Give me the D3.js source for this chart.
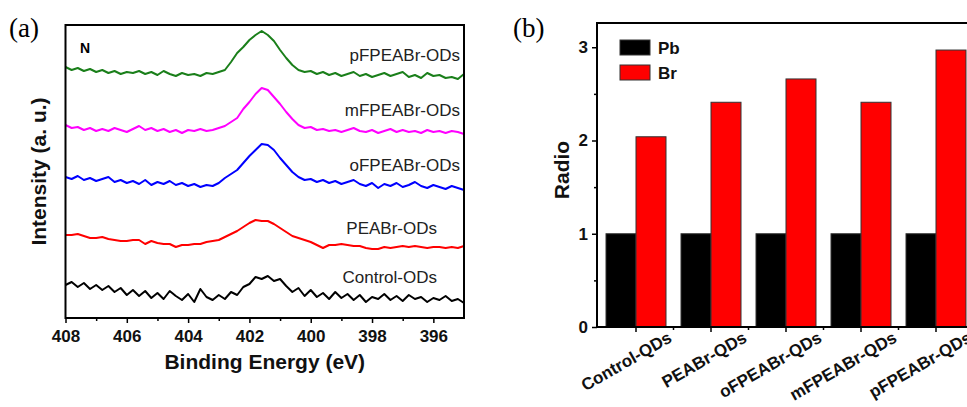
<!DOCTYPE html>
<html>
<head>
<meta charset="utf-8">
<script src="https://cdn.jsdelivr.net/npm/d3@7"></script>
<style>
  body { margin: 0; background: #fff; }
  text { font-family: "Liberation Sans", Arial, sans-serif; }
</style>
</head>
<body>
<div id="chart"></div>
<script>
// ---- panel (a): N 1s spectra, sampled every 0.2 eV from 408 to 395 ----
var energy = d3.range(0, 66).map(i => +(408 - 0.2 * i).toFixed(1));

var pfpeabr = [251,248,250,247,249,246,248,245,247,244,246,245,247,244,246,243,247,244,242,245,243,244,242,245,244,246,248,
  256,265,271,278,283,287,283,277,268,260,253,248,246,247,
  244,246,243,245,242,244,246,242,244,241,243,245,242,244,246,241,243,240,245,242,243,240,241,239,244];
var mfpeabr = [193,190,191,188,190,187,189,187,190,188,186,189,192,188,190,187,189,186,188,185,188,187,189,187,188,190,192,
  196,200,209,216,224,230,228,221,214,206,199,193,190,191,
  188,189,187,188,186,188,190,187,186,188,185,187,189,186,188,186,187,185,188,186,187,185,187,186,184];
var ofpeabr = [141,139,142,138,140,137,139,141,136,138,135,137,134,138,133,136,134,137,133,135,132,134,131,133,132,135,140,
  144,148,155,162,168,174,173,168,160,153,146,141,138,139,
  136,138,135,137,134,136,138,134,132,135,130,134,132,135,131,133,136,132,130,133,131,129,132,130,128];
var peabr = [83,83,84,82,80,80,81,79,78,77,77,78,78,74,77,75,74,74,71,73,73,74,74,76,77,78,81,
  84,87,91,95,98,97,97,94,90,86,82,80,78,76,
  73,70,73,73,74,73,72,72,70,69,69,71,70,71,72,71,72,71,70,71,71,70,71,70,72];
var control = [33,36,31,35,29,33,28,32,26,30,23,28,22,27,20,25,19,27,22,18,24,16,29,21,18,23,19,
  26,23,31,34,41,39,42,37,39,32,26,30,22,28,
  21,25,19,26,20,24,18,23,16,21,19,24,18,22,17,23,19,21,16,20,18,22,17,19,15];

var spectraNames = ["pFPEABr-ODs", "mFPEABr-ODs", "oFPEABr-ODs", "PEABr-ODs", "Control-ODs"];
var spectraValues = [pfpeabr, mfpeabr, ofpeabr, peabr, control];
var spectraColors = ["#1a7f1a", "#ff00ff", "#0000ff", "#ff0000", "#000000"];
var energyTicks = [408, 406, 404, 402, 400, 398, 396];

// ---- panel (b): Pb / Br ratio ----
var samples = ["Control-QDs", "PEABr-QDs", "oFPEABr-QDs", "mFPEABr-QDs", "pFPEABr-QDs"];
var elements = ["Pb", "Br"];
var pbRatio = [1, 1, 1, 1, 1];
var brRatio = [2.04, 2.41, 2.66, 2.41, 2.97];
var ratioTicks = [0, 1, 2, 3];

var svg = d3.select("#chart").append("svg")
  .attr("width", 967)
  .attr("height", 407)
  .style("background", "#fff");

// ================= panel (a) =================
var ax = {left: 65.5, right: 464, top: 25, bottom: 318};
var x = d3.scaleLinear().domain([408, 395]).range([ax.left, ax.right]);
var y = d3.scaleLinear().domain([0, 293]).range([ax.bottom, ax.top]);

var line = d3.line()
  .x((d, i) => x(energy[i]))
  .y(d => y(d));

var ga = svg.append("g");

ga.selectAll("path.spec")
  .data(spectraValues)
  .join("path")
  .attr("class", "spec")
  .attr("d", line)
  .attr("fill", "none")
  .attr("stroke", (d, i) => spectraColors[i])
  .attr("stroke-width", 2)
  .attr("stroke-linejoin", "round");

// minor ticks
ga.append("g")
  .attr("transform", "translate(0," + ax.bottom + ")")
  .call(d3.axisBottom(x).tickValues([407, 405, 403, 401, 399, 397]).tickSize(3).tickFormat(""))
  .call(g => g.select(".domain").remove())
  .selectAll("line").attr("stroke-width", 1.5);

// major ticks + labels
ga.append("g")
  .attr("transform", "translate(0," + ax.bottom + ")")
  .call(d3.axisBottom(x).tickValues(energyTicks).tickSize(5).tickPadding(7))
  .call(g => g.select(".domain").remove())
  .call(g => g.selectAll("line").attr("stroke-width", 1.5))
  .selectAll("text")
  .attr("font-size", 17)
  .attr("font-weight", "bold")
  .attr("fill", "#111")
  .style("font-family", "Liberation Sans, Arial, sans-serif");

ga.append("rect")
  .attr("x", ax.left).attr("y", ax.top)
  .attr("width", ax.right - ax.left).attr("height", ax.bottom - ax.top)
  .attr("fill", "none").attr("stroke", "#000").attr("stroke-width", 2);

// series labels
var labelPos = [[460, 61], [460, 116], [460, 171], [437, 234], [437, 283]];
ga.selectAll("text.lab")
  .data(spectraNames)
  .join("text")
  .attr("class", "lab")
  .attr("x", (d, i) => labelPos[i][0])
  .attr("y", (d, i) => labelPos[i][1])
  .attr("text-anchor", "end")
  .attr("font-size", 17)
  .attr("fill", "#222")
  .text(d => d);

ga.append("text")
  .attr("x", 80).attr("y", 53)
  .attr("font-size", 14).attr("font-weight", "bold")
  .text("N");

ga.append("text")
  .attr("x", (ax.left + ax.right) / 2).attr("y", 369)
  .attr("text-anchor", "middle")
  .attr("font-size", 21).attr("font-weight", "bold")
  .attr("fill", "#111")
  .text("Binding Energy (eV)");

ga.append("text")
  .attr("transform", "translate(46," + ((ax.top + ax.bottom) / 2) + ") rotate(-90)")
  .attr("text-anchor", "middle")
  .attr("font-size", 21).attr("font-weight", "bold")
  .attr("fill", "#111")
  .text("Intensity (a. u.)");

ga.append("text")
  .attr("x", 9).attr("y", 37)
  .attr("font-size", 27)
  .style("font-family", "Liberation Serif, Times New Roman, serif")
  .text("(a)");

// ================= panel (b) =================
var bx = {left: 597, right: 975, top: 23, bottom: 327};
var x0 = d3.scaleBand().domain(samples).range([bx.left, bx.right])
  .paddingInner(0.2).paddingOuter(0.12);
var x1 = d3.scaleBand().domain(elements).range([0, x0.bandwidth()]);
var yb = d3.scaleLinear().domain([0, 3.26]).range([bx.bottom, bx.top]);
var barColors = {Pb: "#000000", Br: "#ff0000"};

var gb = svg.append("g");

var rows = samples.map((s, i) => ({sample: s, values: [{key: "Pb", v: pbRatio[i]}, {key: "Br", v: brRatio[i]}]}));

gb.selectAll("g.grp")
  .data(rows)
  .join("g")
  .attr("class", "grp")
  .attr("transform", d => "translate(" + x0(d.sample) + ",0)")
  .selectAll("rect")
  .data(d => d.values)
  .join("rect")
  .attr("x", d => x1(d.key))
  .attr("y", d => yb(d.v))
  .attr("width", x1.bandwidth())
  .attr("height", d => yb(0) - yb(d.v))
  .attr("fill", d => barColors[d.key])
  .attr("stroke", "#333")
  .attr("stroke-width", 1);

// y axis minor + major
gb.append("g")
  .attr("transform", "translate(" + bx.left + ",0)")
  .call(d3.axisLeft(yb).tickValues([0.5, 1.5, 2.5]).tickSize(3).tickFormat(""))
  .call(g => g.select(".domain").remove())
  .selectAll("line").attr("stroke-width", 1.5);

gb.append("g")
  .attr("transform", "translate(" + bx.left + ",0)")
  .call(d3.axisLeft(yb).tickValues(ratioTicks).tickSize(5).tickPadding(4).tickFormat(d3.format("d")))
  .call(g => g.select(".domain").remove())
  .call(g => g.selectAll("line").attr("stroke-width", 1.5))
  .selectAll("text")
  .attr("font-size", 17)
  .attr("font-weight", "bold")
  .attr("fill", "#111")
  .style("font-family", "Liberation Sans, Arial, sans-serif");

// x axis: minor ticks between groups, major at group centers
var mids = samples.slice(1).map(s => x0(s) - x0.step() * x0.paddingInner() / 2);
gb.selectAll("line.minor")
  .data(mids)
  .join("line")
  .attr("class", "minor")
  .attr("x1", d => d).attr("x2", d => d)
  .attr("y1", bx.bottom).attr("y2", bx.bottom + 3)
  .attr("stroke", "#000").attr("stroke-width", 1.5);

gb.append("g")
  .attr("transform", "translate(0," + bx.bottom + ")")
  .call(d3.axisBottom(x0).tickSize(5).tickFormat(""))
  .call(g => g.select(".domain").remove())
  .selectAll("line").attr("stroke-width", 1.5);

gb.selectAll("text.xl")
  .data(samples)
  .join("text")
  .attr("class", "xl")
  .attr("transform", d => "translate(" + (x0(d) + x0.bandwidth() / 2 + 37) + "," + (bx.bottom + 14) + ") rotate(-30)")
  .attr("text-anchor", "end")
  .attr("font-size", 17)
  .attr("font-weight", "bold")
  .attr("fill", "#111")
  .text(d => d);

gb.append("rect")
  .attr("x", bx.left).attr("y", bx.top)
  .attr("width", bx.right - bx.left).attr("height", bx.bottom - bx.top)
  .attr("fill", "none").attr("stroke", "#000").attr("stroke-width", 2);

// legend
var legend = gb.selectAll("g.leg")
  .data(elements)
  .join("g")
  .attr("class", "leg")
  .attr("transform", (d, i) => "translate(620," + (40 + i * 25) + ")");
legend.append("rect")
  .attr("width", 30).attr("height", 15)
  .attr("fill", d => barColors[d])
  .attr("stroke", "#333").attr("stroke-width", 1);
legend.append("text")
  .attr("x", 38).attr("y", 14)
  .attr("font-size", 17).attr("font-weight", "bold")
  .attr("fill", "#111")
  .text(d => d);

gb.append("text")
  .attr("transform", "translate(569,170) rotate(-90)")
  .attr("text-anchor", "middle")
  .attr("font-size", 21).attr("font-weight", "bold")
  .attr("fill", "#111")
  .text("Radio");

gb.append("text")
  .attr("x", 513).attr("y", 37)
  .attr("font-size", 27)
  .style("font-family", "Liberation Serif, Times New Roman, serif")
  .text("(b)");
</script>
</body>
</html>
